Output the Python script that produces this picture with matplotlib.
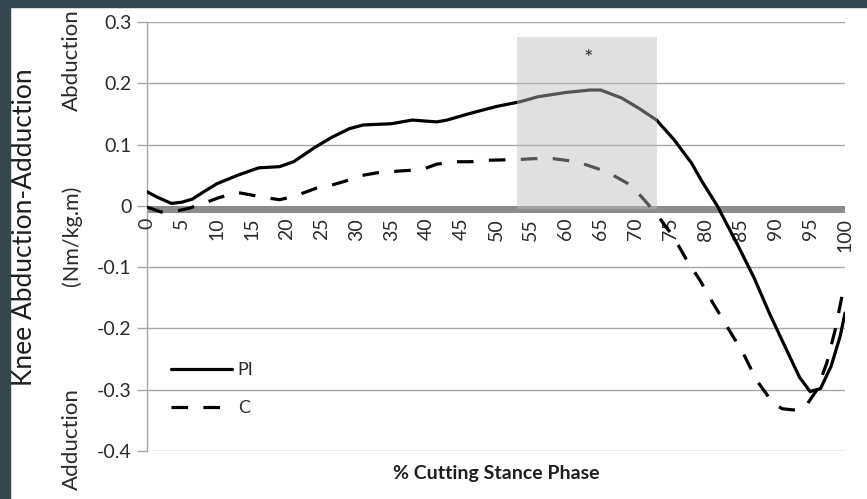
import matplotlib
matplotlib.use("Agg")
import matplotlib.pyplot as plt
from matplotlib.patches import Rectangle
from matplotlib import transforms

# Knee abduction-adduction moment over the cutting stance phase
pi_x = [0, 1.5, 3.5, 5, 6.5, 8, 10, 13, 16, 19, 21, 24, 26.5, 29, 31, 35, 38,
        41.5, 43, 46, 50, 53.5, 56, 60, 63.5, 65, 68, 70.5, 73, 75.5, 78, 79.5,
        81.7, 84.5, 87, 89.2, 91.5, 93.5, 95, 96.5, 98, 99.3, 100]
pi_y = [0.023, 0.014, 0.004, 0.006, 0.011, 0.022, 0.036, 0.050, 0.062, 0.064,
        0.072, 0.095, 0.112, 0.126, 0.132, 0.134, 0.140, 0.137, 0.140, 0.150,
        0.162, 0.170, 0.178, 0.185, 0.189, 0.189, 0.176, 0.159, 0.140, 0.108,
        0.070, 0.040, 0.000, -0.061, -0.118, -0.176, -0.232, -0.280, -0.303,
        -0.298, -0.262, -0.213, -0.175]

c_x = [0, 2, 4, 6, 8.3, 10.2, 12.9, 14.8, 17.2, 19, 20.5, 21.9, 24.3, 26.2,
       28.6, 30.5, 33, 35.1, 37.7, 39.6, 41.5, 44.4, 46.3, 49.1, 51, 53.9, 55.3,
       58.2, 61.6, 64.5, 66.3, 68.8, 70.2, 71.6, 73.1, 75.4, 77.3, 79.2, 81.1,
       83.1, 85.4, 87.3, 89.7, 91, 92.6, 94.3, 96, 97.4, 98.6, 99.7, 100]
c_y = [-0.002, -0.010, -0.009, -0.004, 0.005, 0.013, 0.022, 0.018, 0.013,
       0.010, 0.014, 0.019, 0.029, 0.033, 0.041, 0.049, 0.054, 0.056, 0.058,
       0.060, 0.068, 0.072, 0.072, 0.0745, 0.075, 0.076, 0.077, 0.077, 0.072,
       0.061, 0.053, 0.037, 0.023, 0.005, -0.015, -0.050, -0.088, -0.121,
       -0.159, -0.197, -0.240, -0.284, -0.322, -0.331, -0.333, -0.328, -0.300,
       -0.256, -0.202, -0.140, -0.132]

x_ticks = list(range(0, 101, 5))
y_ticks = [-0.4, -0.3, -0.2, -0.1, 0, 0.1, 0.2, 0.3]
y_tick_labels = ["-0.4", "-0.3", "-0.2", "-0.1", "0", "0.1", "0.2", "0.3"]

sig_start, sig_end, sig_top = 53, 73, 0.275

plt.rcParams["font.family"] = ["Lato", "DejaVu Sans"]

fig = plt.figure(figsize=(8.67, 4.99), dpi=100)
fig.patch.set_facecolor("white")

# dark frame strips along the left and top edges
frame_col = "#36464f"
fig.patches.append(Rectangle((0, 0), 10 / 867, 1, transform=fig.transFigure,
                             color=frame_col, zorder=0))
fig.patches.append(Rectangle((0, 1 - 7 / 499), 1, 7 / 499, transform=fig.transFigure,
                             color=frame_col, zorder=0))

ax = fig.add_axes([147 / 867, 1 - 451 / 499, (845 - 147) / 867, (451 - 22) / 499])
ax.set_xlim(0, 100)
ax.set_ylim(-0.4, 0.3)

for s in ["top", "right", "bottom"]:
    ax.spines[s].set_visible(False)
ax.spines["left"].set_color("#a6a6a6")
ax.spines["left"].set_linewidth(1.0)

ax.set_yticks(y_ticks)
ax.set_yticklabels(y_tick_labels, fontsize=14, color="#2b2b2b")
ax.tick_params(axis="y", direction="out", length=7, width=1, color="#a6a6a6", pad=4)
ax.set_xticks([])

for yv in y_ticks:
    if yv != 0:
        ax.axhline(yv, color="#a6a6a6", lw=1.0, zorder=1)

# thick zero axis band
ax.axhspan(-0.011, 0.0, color="#8c8c8c", lw=0, zorder=2)

# rotated category labels under the zero band
off = transforms.offset_copy(ax.transData, fig=fig, x=0, y=-12, units="dots")
for xv in x_ticks:
    ax.text(xv, 0, str(xv), rotation=90, ha="center", va="top", fontsize=14,
            color="#2b2b2b", transform=off, zorder=3)

ax.plot(pi_x, pi_y, color="black", lw=2.3, solid_joinstyle="round",
        solid_capstyle="round", zorder=4, label="PI")
ax.plot(c_x, c_y, color="black", lw=2.3, dashes=(5.2, 4.8), zorder=4, label="C")

# significance window
ax.add_patch(Rectangle((sig_start, -0.005), sig_end - sig_start, sig_top + 0.005,
                       facecolor="#bbbbbb", alpha=0.45, lw=0, zorder=5))
ax.text((sig_start + sig_end) / 2 + 0.2, 0.240, "*", ha="center", va="center",
        fontsize=16, color="#333333", zorder=6)

leg = ax.legend(loc="upper left", bbox_to_anchor=(0.011, 0.245), frameon=False,
                fontsize=13, handlelength=3.4, handletextpad=0.3, labelspacing=1.22)
for t in leg.get_texts():
    t.set_color("#2b2b2b")

fig.text(496 / 867, 1 - 473 / 499, "% Cutting Stance Phase", ha="center",
         va="center", fontsize=14, fontweight="bold", color="#1e1e1e")

fig.text(25 / 867, 1 - 227 / 499, "Knee Abduction-Adduction", rotation=90,
         ha="center", va="center", fontsize=19, color="#1e1e1e")
fig.text(72 / 867, 1 - 60 / 499, "Abduction", rotation=90, ha="center",
         va="center", fontsize=16, color="#2b2b2b")
fig.text(72 / 867, 1 - 236 / 499, "(Nm/kg.m)", rotation=90, ha="center",
         va="center", fontsize=15.5, color="#2b2b2b")
fig.text(72 / 867, 1 - 439 / 499, "Adduction", rotation=90, ha="center",
         va="center", fontsize=16, color="#2b2b2b")

fig.savefig("out.png", dpi=100, facecolor=fig.get_facecolor())
